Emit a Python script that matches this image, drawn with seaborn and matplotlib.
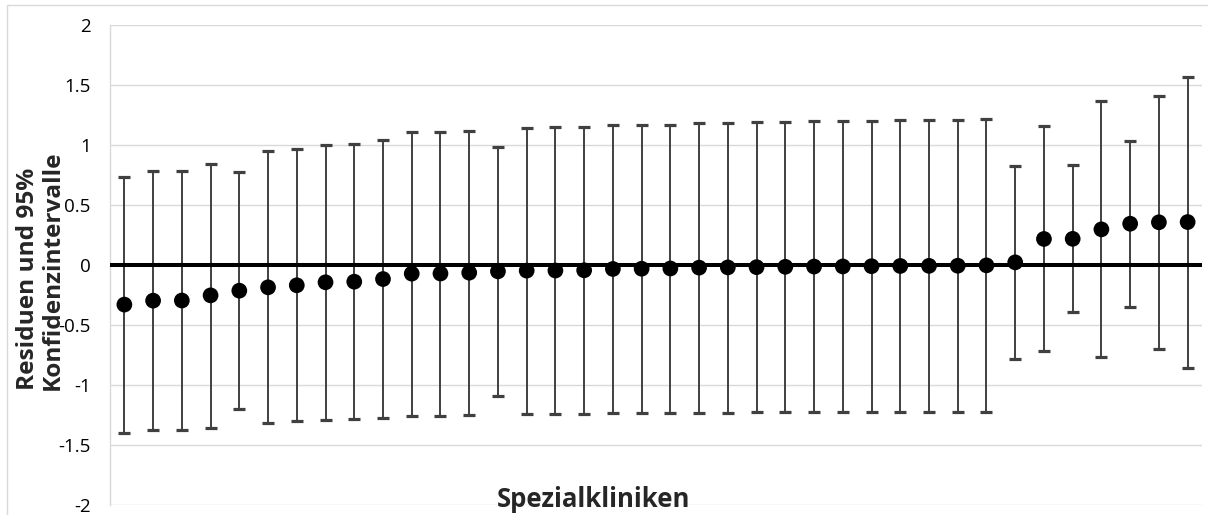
import numpy as np
import pandas as pd
import matplotlib
matplotlib.use("Agg")
import matplotlib.pyplot as plt
import seaborn as sns
from matplotlib.patches import Rectangle

# Residuals per specialty clinic (sorted) with their 95% confidence limits
klinik = list(range(1, 39))
residuen = [-0.330, -0.297, -0.296, -0.253, -0.214, -0.186, -0.169, -0.144, -0.139, -0.117,
            -0.072, -0.071, -0.064, -0.053, -0.047, -0.046, -0.044, -0.033, -0.031, -0.029,
            -0.022, -0.020, -0.018, -0.015, -0.013, -0.012, -0.010, -0.008, -0.007, -0.006,
            -0.003, 0.022, 0.217, 0.218, 0.297, 0.344, 0.356, 0.358]
ki_oben = [0.736, 0.783, 0.783, 0.844, 0.772, 0.950, 0.969, 1.000, 1.008, 1.039,
           1.106, 1.111, 1.119, 0.986, 1.144, 1.147, 1.153, 1.164, 1.169, 1.170,
           1.181, 1.186, 1.189, 1.194, 1.197, 1.200, 1.203, 1.208, 1.211, 1.211,
           1.219, 0.828, 1.156, 0.836, 1.367, 1.036, 1.408, 1.569]
ki_unten = [-1.397, -1.378, -1.375, -1.356, -1.197, -1.319, -1.303, -1.292, -1.286, -1.278,
            -1.258, -1.258, -1.247, -1.089, -1.244, -1.244, -1.239, -1.236, -1.233, -1.233,
            -1.231, -1.231, -1.228, -1.225, -1.225, -1.225, -1.225, -1.222, -1.225, -1.225,
            -1.222, -0.786, -0.714, -0.394, -0.769, -0.353, -0.703, -0.856]
y_ticks = [-2, -1.5, -1, -0.5, 0, 0.5, 1, 1.5, 2]
y_tick_labels = ["-2", "-1.5", "-1", "-0.5", "0", "0.5", "1", "1.5", "2"]

df = pd.DataFrame({"pos": np.arange(len(klinik)), "res": residuen,
                   "lo": ki_unten, "hi": ki_oben})

sns.set_theme(style="white")
plt.rcParams["font.family"] = ["Open Sans", "DejaVu Sans"]

fig = plt.figure(figsize=(12.08, 5.15), dpi=100)
ax = fig.add_axes([110 / 1208, 10 / 515, 1092 / 1208, 480 / 515])

# light frame around the whole chart
fig.patches.append(Rectangle((7 / 1208, -0.2), 1.2, 1.2 - 5 / 515,
                             transform=fig.transFigure, fill=False,
                             edgecolor="#d9d9d9", linewidth=1.0, zorder=0))

# horizontal gridlines
for t in y_ticks:
    ax.axhline(t, color="#d9d9d9", linewidth=1.0, zorder=0)

# confidence intervals
eb = ax.errorbar(df["pos"], df["res"],
                 yerr=[df["res"] - df["lo"], df["hi"] - df["res"]],
                 fmt="none", ecolor="#404040", elinewidth=1.4,
                 capsize=4.4, capthick=2.3, zorder=2)
for cap in eb[1]:
    cap.set_color("black")

# zero reference line
ax.axhline(0, color="black", linewidth=2.9, zorder=3)

# residual points
sns.scatterplot(data=df, x="pos", y="res", ax=ax, color="black", s=128,
                edgecolor="none", linewidth=0, zorder=4, legend=False)

ax.set_xlim(-0.5, len(klinik) - 0.5)
ax.set_ylim(-2, 2)
ax.set_yticks(y_ticks)
ax.set_yticklabels(y_tick_labels, fontsize=13.5, color="black")
ax.tick_params(axis="y", length=0, pad=14)
ax.set_xticks([])
ax.set_xlabel("")
ax.set_ylabel("")
for side in ["top", "right", "bottom"]:
    ax.spines[side].set_visible(False)
ax.spines["left"].set_color("#d9d9d9")
ax.spines["left"].set_linewidth(1.0)
ax.patch.set_alpha(0)

fig.text(594 / 1208, 1 - 507 / 515, "Spezialkliniken", fontsize=18.5,
         fontweight="bold", ha="center", va="baseline")
fig.text(40 / 1208, 1 - 270 / 515, "Residuen und 95%\nKonfidenzintervalle",
         fontsize=17.6, fontweight="bold", rotation=90, ha="center", va="center",
         multialignment="left", linespacing=1.05)

fig.savefig("out.png", dpi=100)
